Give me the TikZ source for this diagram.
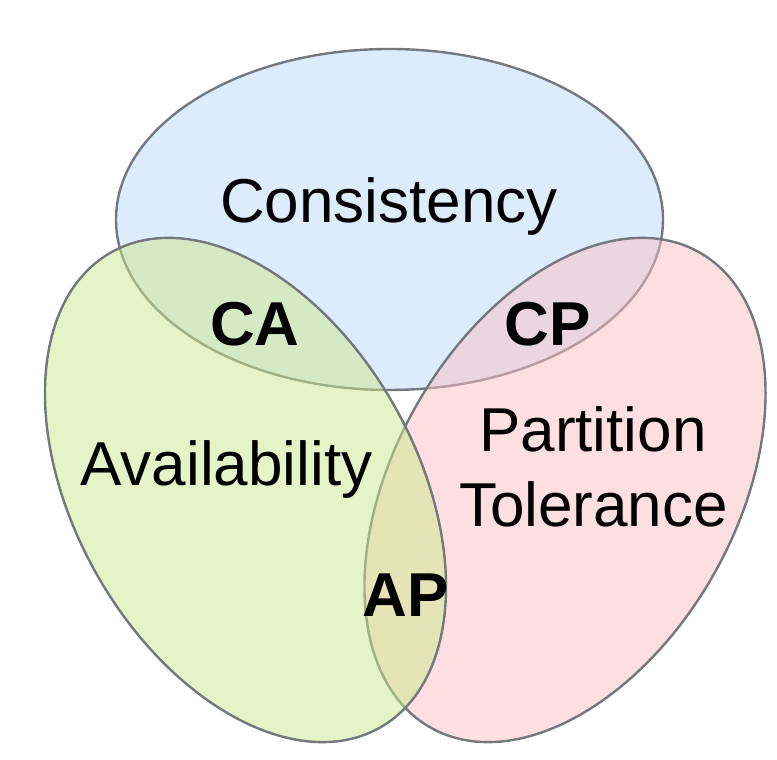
\documentclass[tikz,border=0pt]{standalone}
\usepackage{fontspec}
\setmainfont{Liberation Sans}
\definecolor{cblue}{RGB}{187,217,251}
\definecolor{cred}{RGB}{251,191,195}
\definecolor{cgreen}{RGB}{203,233,141}
\definecolor{strokegray}{RGB}{115,120,125}
\begin{document}
\begin{tikzpicture}[x=1pt,y=1pt,
  setshape/.style={draw=strokegray, line width=2.4pt, fill opacity=0.5},
  lbl/.style={font=\fontsize{62}{74}\selectfont, inner sep=0pt, anchor=base},
  blbl/.style={font=\fontsize{62}{74}\selectfont\bfseries, inner sep=0pt, anchor=base}]
\useasboundingbox (0,0) rectangle (777,760);
% Consistency
\draw[setshape, fill=cblue] (389.5,540.5) ellipse [x radius=273.5, y radius=170.5];
% Partition Tolerance
\draw[setshape, fill=cred, rotate around={60.5:(565,270)}] (565,270) ellipse [x radius=273, y radius=171];
% Availability
\draw[setshape, fill=cgreen, rotate around={-60.5:(245.5,270)}] (245.5,270) ellipse [x radius=273, y radius=171];
% labels
\node[lbl] (cons) at (389,537) {Consistency};
\node[lbl] (avail) at (226.5,274) {Availability};
\node[lbl] (part) at (593,308) {Partition};
\node[lbl] (tol) at (593.5,233) {Tolerance};
\node[blbl] (ca) at (255,414) {CA};
\node[blbl] (cp) at (548,414) {CP};
\node[blbl] (ap) at (406,143) {AP};
\end{tikzpicture}
\end{document}
